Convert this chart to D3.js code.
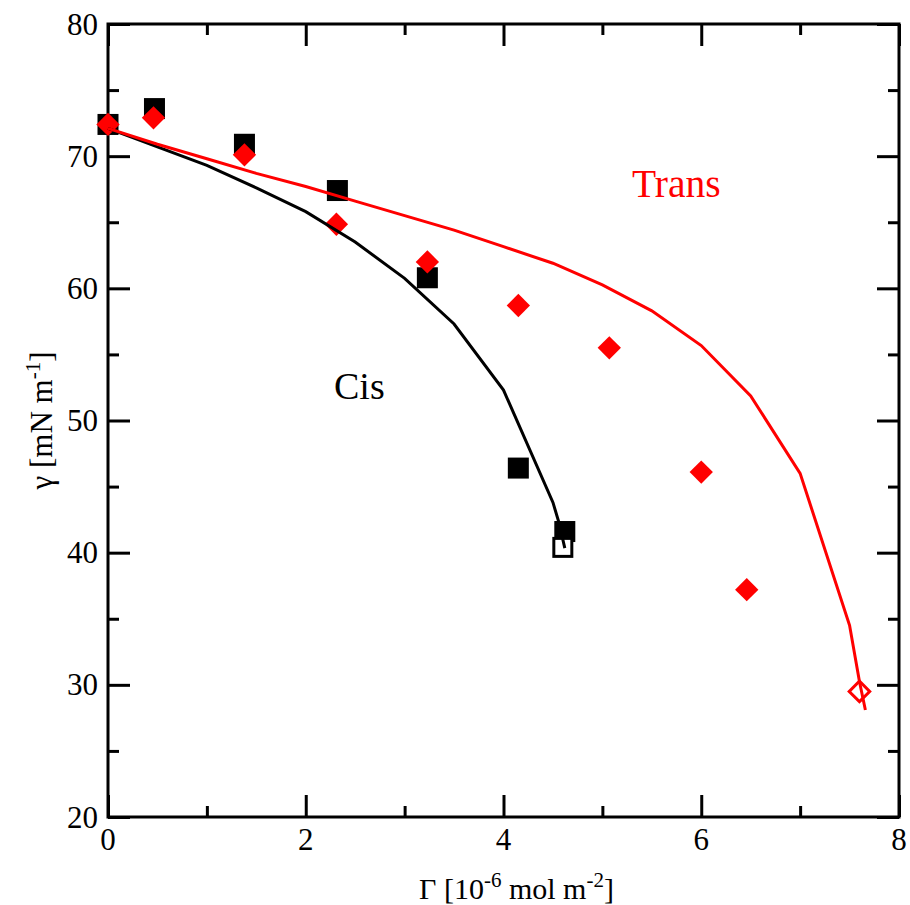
<!DOCTYPE html>
<html>
<head>
<meta charset="utf-8">
<script src="https://cdn.jsdelivr.net/npm/d3@7"></script>
<style>
    body { margin: 0; background: #fff; }
    svg text { font-family: "Liberation Serif", "Times New Roman", serif; }
</style>
</head>
<body>
<svg id="chart" width="910" height="905"></svg>
<script>
"use strict";

// measured points (filled symbols)
var cisGamma = [0, 0.47, 1.38, 2.32, 3.23, 4.15, 4.62];
var cisTension = [72.4, 73.6, 70.9, 67.4, 60.8, 46.4, 41.6];
var transGamma = [0, 0.46, 1.38, 2.31, 3.23, 4.15, 5.07, 6.0, 6.46];
var transTension = [72.4, 72.9, 70.1, 64.85, 62.0, 58.7, 55.5, 46.1, 37.2];

// open symbols
var cisOpenGamma = [4.60];
var cisOpenTension = [40.4];
var transOpenGamma = [7.6];
var transOpenTension = [29.5];

// model curves
var cisModelGamma = [0, 0.5, 1, 1.5, 2, 2.5, 3, 3.5, 4, 4.5, 4.56, 4.62];
var cisModelTension = [72.1, 70.7, 69.3, 67.6, 65.8, 63.5, 60.76, 57.3, 52.3, 43.8, 42.3, 40.35];
var transModelGamma = [0, 0.5, 1, 1.5, 2, 2.5, 3, 3.5, 4, 4.5, 5, 5.5, 6, 6.5, 7, 7.5, 7.6, 7.66];
var transModelTension = [72.1, 70.9, 69.8, 68.7, 67.7, 66.6, 65.5, 64.4, 63.15, 61.9, 60.26, 58.3, 55.67, 51.86, 46.0, 34.5, 30.25, 28.1];

var xMajorTicks = [0, 2, 4, 6, 8];
var xMinorTicks = [1, 3, 5, 7];
var yMajorTicks = [20, 30, 40, 50, 60, 70, 80];
var yMinorTicks = [25, 35, 45, 55, 65, 75];

var margin = {left: 108, right: 11, top: 24, bottom: 88};
var width = 910 - margin.left - margin.right;
var height = 905 - margin.top - margin.bottom;
var majorTick = 22;
var minorTick = 11;
var red = "#ff0000";

var zip = function (xs, ys) {
    return xs.map(function (x, i) { return [x, ys[i]]; });
};

var svg = d3.select("#chart");
var g = svg.append("g").attr("transform", "translate(" + margin.left + "," + margin.top + ")");

var x = d3.scaleLinear().domain([0, 8]).range([0, width]);
var y = d3.scaleLinear().domain([20, 80]).range([height, 0]);

// ticks on all four sides, pointing inwards
var drawAxis = function (axis, transform, len) {
    g.append("g")
        .attr("class", "axis")
        .attr("transform", transform)
        .call(axis.tickSize(len).tickFormat(""))
        .call(function (s) {
            s.select(".domain").remove();
            s.selectAll("line").attr("stroke", "#000").attr("stroke-width", 3);
        });
};
drawAxis(d3.axisTop(x).tickValues(xMajorTicks), "translate(0," + height + ")", majorTick);
drawAxis(d3.axisTop(x).tickValues(xMinorTicks), "translate(0," + height + ")", minorTick);
drawAxis(d3.axisBottom(x).tickValues(xMajorTicks), "translate(0,0)", majorTick);
drawAxis(d3.axisBottom(x).tickValues(xMinorTicks), "translate(0,0)", minorTick);
drawAxis(d3.axisRight(y).tickValues(yMajorTicks), "translate(0,0)", majorTick);
drawAxis(d3.axisRight(y).tickValues(yMinorTicks), "translate(0,0)", minorTick);
drawAxis(d3.axisLeft(y).tickValues(yMajorTicks), "translate(" + width + ",0)", majorTick);
drawAxis(d3.axisLeft(y).tickValues(yMinorTicks), "translate(" + width + ",0)", minorTick);

g.append("rect")
    .attr("width", width)
    .attr("height", height)
    .attr("fill", "none")
    .attr("stroke", "#000")
    .attr("stroke-width", 3);

// tick labels
g.selectAll(".xlabel").data(xMajorTicks).enter().append("text")
    .attr("x", function (d) { return x(d); })
    .attr("y", height + 33)
    .attr("text-anchor", "middle")
    .attr("font-size", 31)
    .text(function (d) { return d; });

g.selectAll(".ylabel").data(yMajorTicks).enter().append("text")
    .attr("x", -10)
    .attr("y", function (d) { return y(d) + 10.5; })
    .attr("text-anchor", "end")
    .attr("font-size", 31)
    .text(function (d) { return d; });

// axis titles
var xTitle = svg.append("text")
    .attr("x", margin.left + width / 2 + 13)
    .attr("y", 899)
    .attr("text-anchor", "middle")
    .attr("font-size", 30);
xTitle.append("tspan").text("\u0393 [10");
xTitle.append("tspan").attr("font-size", 21).attr("dy", -12).text("-6");
xTitle.append("tspan").attr("dy", 12).text(" mol m");
xTitle.append("tspan").attr("font-size", 21).attr("dy", -12).text("-2");
xTitle.append("tspan").attr("dy", 12).text("]");

var yTitle = svg.append("text")
    .attr("transform", "translate(52," + (margin.top + height / 2) + ") rotate(-90)")
    .attr("text-anchor", "middle")
    .attr("font-size", 31);
yTitle.append("tspan").text("\u03b3 [mN m");
yTitle.append("tspan").attr("font-size", 21).attr("dy", -12).text("-1");
yTitle.append("tspan").attr("dy", 12).text("]");

// symbols
var squareSize = 21;
var diamond = d3.symbol().type(d3.symbolSquare).size(16.5 * 16.5);

g.selectAll(".cis").data(zip(cisGamma, cisTension)).enter().append("rect")
    .attr("x", function (d) { return x(d[0]) - squareSize / 2; })
    .attr("y", function (d) { return y(d[1]) - squareSize / 2; })
    .attr("width", squareSize)
    .attr("height", squareSize)
    .attr("fill", "#000");

g.selectAll(".trans").data(zip(transGamma, transTension)).enter().append("path")
    .attr("d", diamond)
    .attr("transform", function (d) { return "translate(" + x(d[0]) + "," + y(d[1]) + ") rotate(45)"; })
    .attr("fill", red);

g.selectAll(".cisOpen").data(zip(cisOpenGamma, cisOpenTension)).enter().append("rect")
    .attr("x", function (d) { return x(d[0]) - squareSize / 2 + 1.5; })
    .attr("y", function (d) { return y(d[1]) - squareSize / 2 + 1.5; })
    .attr("width", squareSize - 3)
    .attr("height", squareSize - 3)
    .attr("fill", "#fff")
    .attr("stroke", "#000")
    .attr("stroke-width", 3);

g.selectAll(".transOpen").data(zip(transOpenGamma, transOpenTension)).enter().append("path")
    .attr("d", d3.symbol().type(d3.symbolSquare).size(14.5 * 14.5))
    .attr("transform", function (d) { return "translate(" + x(d[0]) + "," + y(d[1]) + ") rotate(45)"; })
    .attr("fill", "none")
    .attr("stroke", red)
    .attr("stroke-width", 3);

// model lines
var line = d3.line()
    .x(function (d) { return x(d[0]); })
    .y(function (d) { return y(d[1]); });

g.append("path")
    .datum(zip(cisModelGamma, cisModelTension))
    .attr("d", line)
    .attr("fill", "none")
    .attr("stroke", "#000")
    .attr("stroke-width", 3);

g.append("path")
    .datum(zip(transModelGamma, transModelTension))
    .attr("d", line)
    .attr("fill", "none")
    .attr("stroke", red)
    .attr("stroke-width", 3);

// annotations
svg.append("text")
    .attr("x", 334)
    .attr("y", 399)
    .attr("font-size", 38)
    .attr("fill", "#000")
    .text("Cis");

svg.append("text")
    .attr("x", 632)
    .attr("y", 197)
    .attr("font-size", 39.5)
    .attr("fill", red)
    .text("Trans");
</script>
</body>
</html>
